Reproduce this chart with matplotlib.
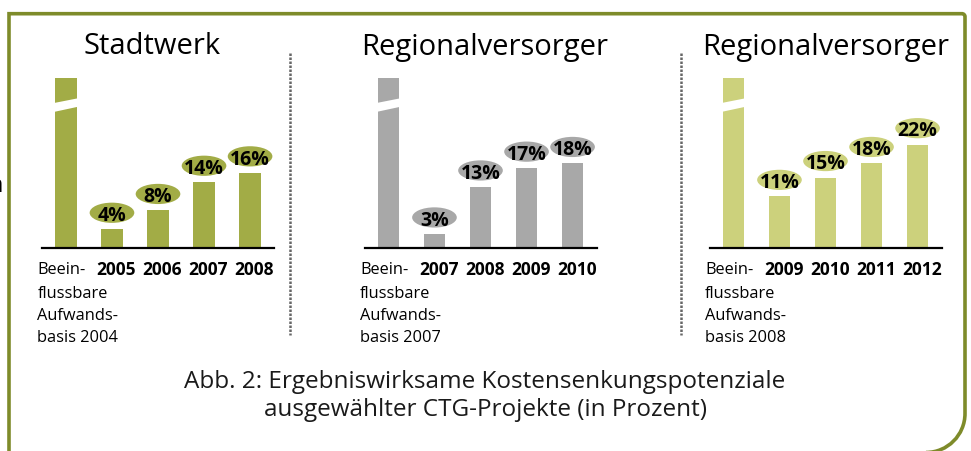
import matplotlib
matplotlib.use("Agg")
import matplotlib.pyplot as plt
from matplotlib.patches import Ellipse, Polygon, PathPatch
from matplotlib.path import Path
from matplotlib.lines import Line2D

W, H = 971, 451
DPI = 100

plt.rcParams['font.family'] = ['Open Sans', 'DejaVu Sans']

# data
titles = ["Stadtwerk", "Regionalversorger", "Regionalversorger"]
years = [
    ["2005", "2006", "2007", "2008"],
    ["2007", "2008", "2009", "2010"],
    ["2009", "2010", "2011", "2012"],
]
savings = [
    [4, 8, 14, 16],
    [3, 13, 17, 18],
    [11, 15, 18, 22],
]
basis_labels = [
    "Beein-\nflussbare\nAufwands-\nbasis 2004",
    "Beein-\nflussbare\nAufwands-\nbasis 2007",
    "Beein-\nflussbare\nAufwands-\nbasis 2008",
]
base_display = 36.2   # broken 100 % bar, shown cut
colors = ["#a2ac46", "#a8a8a8", "#ccd17c"]
frame_color = "#7e8b2a"
caption = ("Abb. 2: Ergebniswirksame Kostensenkungspotenziale\n"
           "ausgewählter CTG-Projekte (in Prozent)")

# layout (pixels)
panel_left = [42, 364.5, 709.5]
panel_width = 232
baseline_y = 248
panel_height = 188
ymax = 40.0
title_x = [152, 485, 826]


def fx(x):
    return x / W


def fy(y):
    return 1 - y / H


fig = plt.figure(figsize=(W / DPI, H / DPI), dpi=DPI)

for k in range(3):
    ax = fig.add_axes([fx(panel_left[k]), fy(baseline_y),
                       panel_width / W, panel_height / H])
    ax.set_xlim(-0.52, 4.52)
    ax.set_ylim(0, ymax)
    for s in ["top", "right", "left"]:
        ax.spines[s].set_visible(False)
    ax.spines["bottom"].set_linewidth(1.6)
    ax.set_xticks([])
    ax.set_yticks([])
    ax.patch.set_alpha(0)

    c = colors[k]
    bw = 0.47
    ax.bar([0], [base_display], width=bw, color=c, zorder=2)
    # break in the base bar
    ax.add_patch(Polygon([(-bw / 2 - 0.05, 28.9), (bw / 2 + 0.05, 30.1),
                          (bw / 2 + 0.05, 31.9), (-bw / 2 - 0.05, 30.8)],
                         closed=True, facecolor="white", edgecolor="none",
                         zorder=3))

    xs = [1, 2, 3, 4]
    ax.bar(xs, savings[k], width=bw, color=c, zorder=2)
    for x, v in zip(xs, savings[k]):
        cy = v + 3.5
        ax.add_patch(Ellipse((x, cy), width=0.97, height=4.3, facecolor=c,
                             edgecolor="none", zorder=3, clip_on=False))
        ax.text(x, cy - 0.7, f"{v}%", ha="center", va="center",
                fontsize=14, fontweight="bold", zorder=4, clip_on=False)

    # category labels
    for x, y in zip(xs, years[k]):
        ax.annotate(y, xy=(x, 0), xycoords=("data", "axes fraction"),
                    xytext=(3, -16), textcoords="offset points",
                    ha="center", va="center", fontsize=12.5,
                    fontweight="bold")
    first, rest = basis_labels[k].split("\n", 1)
    ax.annotate(first, xy=(0, 0), xycoords=("data", "axes fraction"),
                xytext=(-20.5, -16), textcoords="offset points",
                ha="left", va="center", fontsize=11.8)
    ax.annotate(rest, xy=(0, 0), xycoords=("data", "axes fraction"),
                xytext=(-20.5, -27), textcoords="offset points",
                ha="left", va="top", fontsize=11.8, linespacing=1.52)

    # panel title
    fig.text(fx(title_x[k]), fy(47), titles[k], ha="center", va="center",
             fontsize=21)

# dotted separators
for x in [290, 681]:
    fig.add_artist(Line2D([fx(x), fx(x)], [fy(53), fy(335)],
                          transform=fig.transFigure, color="#666666",
                          linewidth=1.8, dashes=(1.0, 0.6)))

# caption
fig.text(fx(485), fy(396), caption, ha="center", va="center", fontsize=17.5,
         linespacing=1.25, color="#1a1a1a")

# cut-off character at the left edge
fig.text(fx(3), fy(186), "n", ha="right", va="center", fontsize=17)

# frame with rounded lower-right corner
R = 39
r = 3
kk = 0.5523
left, top, right, bottom = 9, 13.7, 965, 452.5
verts = [
    (left, bottom + 10), (left, top), (right - r, top),
    (right - r + kk * r, top), (right, top + r - kk * r), (right, top + r),
    (right, bottom - R),
    (right, bottom - R + kk * R), (right - R + kk * R, bottom), (right - R, bottom),
    (left, bottom),
]
codes = [Path.MOVETO, Path.LINETO, Path.LINETO,
         Path.CURVE4, Path.CURVE4, Path.CURVE4,
         Path.LINETO,
         Path.CURVE4, Path.CURVE4, Path.CURVE4,
         Path.LINETO]
path = Path([(fx(x), fy(y)) for x, y in verts], codes)
fig.add_artist(PathPatch(path, transform=fig.transFigure, facecolor="none",
                         edgecolor=frame_color, linewidth=2.6))

fig.savefig("out.png", dpi=DPI, facecolor="white")
plt.close(fig)
